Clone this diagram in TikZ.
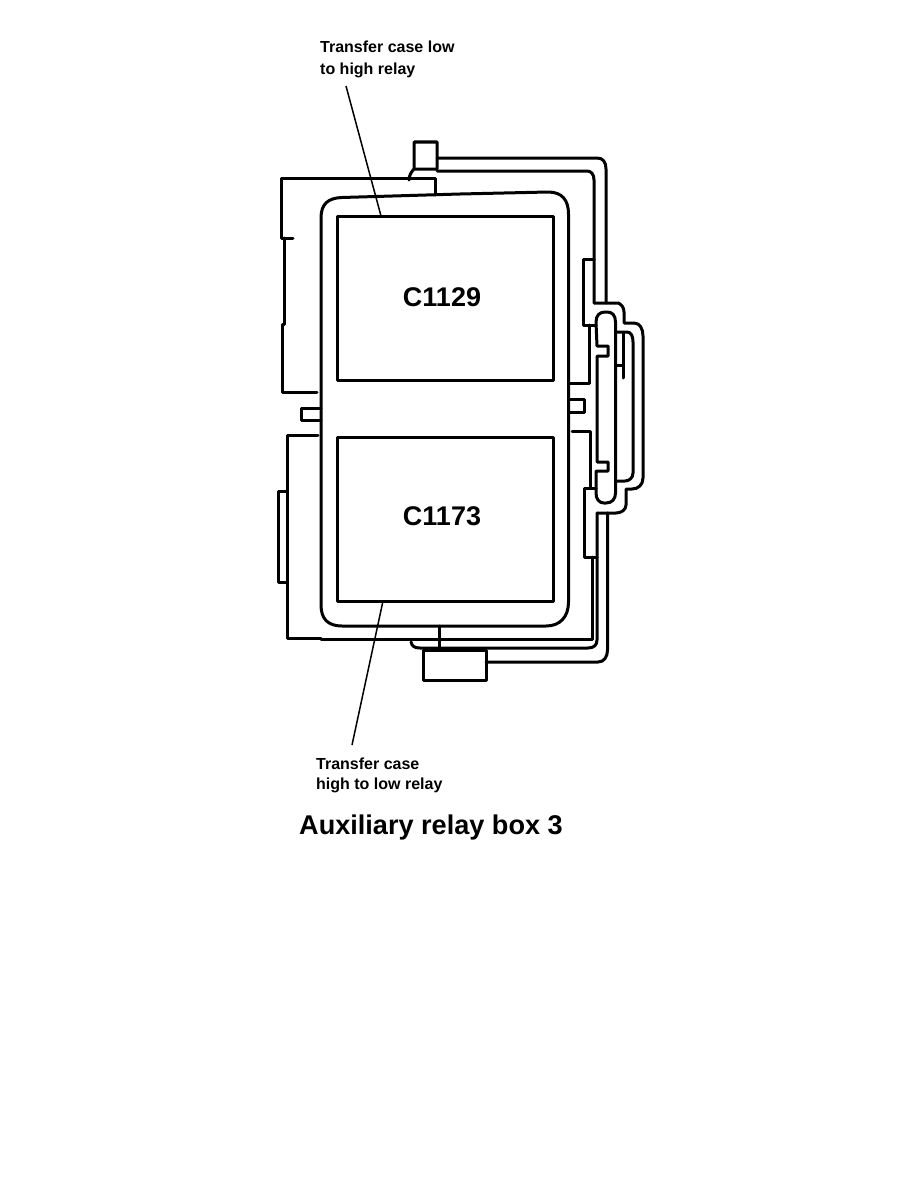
\documentclass[tikz,border=0pt]{standalone}
\usepackage{fontspec}
\setmainfont{Liberation Sans}
\tikzset{
  wire/.style={line width=3pt,line join=round,line cap=round},
  leader/.style={line width=1.5pt},
  smalllabel/.style={font=\bfseries\fontsize{16}{#1}\selectfont,align=left,anchor=base west,inner sep=0pt},
  bigid/.style={font=\bfseries\fontsize{27}{30}\selectfont,inner sep=0pt},
  titletext/.style={font=\bfseries\fontsize{27.1}{30}\selectfont,inner sep=0pt}
}
\begin{document}
\begin{tikzpicture}[x=1pt,y=-1pt]
\useasboundingbox (0,0) rectangle (918,1188);
% relay rectangles
\node[wire,draw,minimum width=216pt,minimum height=164pt,inner sep=0pt] (relayA) at (445,298) {};
\node[wire,draw,minimum width=216pt,minimum height=164pt,inner sep=0pt] (relayB) at (445,519) {};
\node[bigid] (idA) at (442,297) {C1129};
\node[bigid] (idB) at (442,516) {C1173};
% main body
\draw[wire] (321,218) .. controls (321,204) and (328,198) .. (342,197.5) -- (460,194) -- (548,192) .. controls (562,192) and (568.5,200) .. (568.5,214) -- (568.5,602) .. controls (568.5,617) and (560,626) .. (546,626) -- (342,626) .. controls (328,626) and (321,619) .. (321,605) -- cycle;
% top connector
\draw[wire] (409,180) .. controls (409,175) and (412,171) .. (414,169) -- (414,142) -- (437,142) -- (437,169) -- (414,169);
\draw[wire] (437,158) -- (597,158) .. controls (603,158) and (606,162) .. (606,169) -- (606,303);
\draw[wire] (437,171) -- (587,171) .. controls (591,171) and (594,174) .. (594,180) -- (594,303);
% left upper bracket
\draw[wire] (435,195) -- (435,178) -- (281,178) -- (281,238) -- (293,238);
\draw[wire] (284,238) -- (284,324) -- (282,324) -- (282,392) -- (317,392);
% left tab
\draw[wire] (321,408) -- (301,408) -- (301,420) -- (321,420);
% left lower bracket
\draw[wire] (318,435) -- (287,435) -- (287,638) -- (321,638);
\draw[wire] (287,491) -- (278,491) -- (278,582) -- (287,582);
% right tab
\draw[wire] (569,399) -- (584,399) -- (584,412) -- (569,412);
% right upper pieces
\draw[wire] (594,259) -- (583,259) -- (583,325) -- (596,325);
\draw[wire] (589,325) -- (589,383) -- (569,383);
\draw[wire] (594,303) -- (618,303) .. controls (621,304) and (624,307) .. (624,312) -- (624,323) -- (634,323) .. controls (640,323) and (643,329) .. (643,336) -- (643,478) .. controls (643,485) and (638,489) .. (632,489) -- (626,489) -- (626,505) .. controls (626,510) and (621,513) .. (616,513) -- (597,513);
% right lower pieces
\draw[wire] (572,431) -- (590,431) -- (590,488);
\draw[wire] (596,488) -- (584,488) -- (584,557) -- (597,557);
\draw[wire] (597,513) -- (597,640) .. controls (597,645) and (594,648) .. (588,648) -- (420,648) .. controls (414,648) and (412,646) .. (411,642);
\draw[wire] (607.5,513) -- (607.5,650) .. controls (607.5,657) and (604,662) .. (598,662) -- (486,662);
\draw[wire] (592,557) -- (592,639) -- (321,639);
% inner capsule
\draw[wire] (597,346) -- (596,322) .. controls (596,315) and (600,312) .. (605,312) -- (607,312) .. controls (612,312) and (615.5,315) .. (615.5,322) -- (615.5,493) .. controls (615.5,499) and (612,503) .. (606,503) -- (604,503) .. controls (599,503) and (596,499) .. (596,493) -- (596,471) -- (608,471) -- (608,462) -- (597,462) -- (597,356) -- (608,356) -- (608,346) -- cycle;
\draw[wire] (616,332) -- (627,332) .. controls (631,332) and (633,336) .. (633,342) -- (633,473) .. controls (633,478) and (629,481) .. (625,481) -- (616,481);
\draw[wire] (623,333) -- (623,378);
\draw[wire] (616,365) -- (623,365);
% bottom connector
\draw[wire] (439,626) -- (439,648);
\draw[wire] (423,650) rectangle (486,680);
% labels and leaders
\node[smalllabel=22] (topLabel) at (320,75) {Transfer case low\\to high relay};
\node[smalllabel=20] (botLabel) at (316,789) {Transfer case\\high to low relay};
\node[titletext,anchor=base west] (title) at (299,834) {Auxiliary relay box 3};
\coordinate (topStart) at (346,86);
\coordinate (topEnd) at (381,216);
\coordinate (botStart) at (383,601);
\coordinate (botEnd) at (352,745);
\draw[leader] (topStart) -- (topEnd);
\draw[leader] (botStart) -- (botEnd);
\end{tikzpicture}
\end{document}
